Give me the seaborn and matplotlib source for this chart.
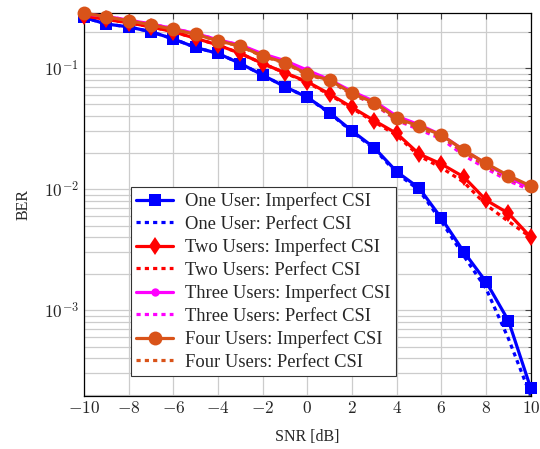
import numpy as np
import pandas as pd
import matplotlib
matplotlib.use("Agg")
import matplotlib.pyplot as plt
import matplotlib.ticker as mticker
import seaborn as sns

snr = list(range(-10, 11))

one_imp = [0.262, 0.231, 0.219, 0.1995, 0.174, 0.148, 0.132, 0.109, 0.0875, 0.070, 0.0573,
           0.0427, 0.0302, 0.0219, 0.0139, 0.0102, 0.00573, 0.00303, 0.00171, 0.000816, 0.000225]
one_per = [0.262, 0.231, 0.219, 0.1995, 0.174, 0.148, 0.132, 0.109, 0.0875, 0.070, 0.0570,
           0.0422, 0.0298, 0.0214, 0.0135, 0.0098, 0.0054, 0.0028, 0.00150, 0.00058, 0.000195]
two_imp = [0.270, 0.252, 0.237, 0.219, 0.1995, 0.176, 0.155, 0.132, 0.109, 0.0914, 0.077,
           0.061, 0.0473, 0.0367, 0.0288, 0.0195, 0.0161, 0.0126, 0.0081, 0.0063, 0.0040]
two_per = [0.270, 0.252, 0.237, 0.219, 0.1995, 0.176, 0.155, 0.132, 0.109, 0.0910, 0.076,
           0.060, 0.0465, 0.0358, 0.0278, 0.0188, 0.0150, 0.0114, 0.0074, 0.0054, 0.0040]
three_imp = [0.281, 0.267, 0.249, 0.231, 0.212, 0.193, 0.171, 0.155, 0.131, 0.115, 0.096,
             0.080, 0.064, 0.053, 0.040, 0.034, 0.028, 0.021, 0.0162, 0.0125, 0.0102]
three_per = [0.281, 0.267, 0.249, 0.231, 0.212, 0.193, 0.171, 0.154, 0.129, 0.113, 0.093,
             0.078, 0.061, 0.050, 0.037, 0.031, 0.026, 0.019, 0.0148, 0.0117, 0.0098]
four_imp = [0.285, 0.265, 0.246, 0.228, 0.209, 0.190, 0.168, 0.152, 0.126, 0.111, 0.089,
            0.0796, 0.0618, 0.0517, 0.0384, 0.0332, 0.0279, 0.0210, 0.0163, 0.0129, 0.0106]
four_per = [0.285, 0.265, 0.246, 0.228, 0.209, 0.190, 0.168, 0.151, 0.125, 0.110, 0.088,
            0.0785, 0.0605, 0.0505, 0.0372, 0.0322, 0.0270, 0.0202, 0.0155, 0.0122, 0.0102]

labels = ["One User: Imperfect CSI", "One User: Perfect CSI",
          "Two Users: Imperfect CSI", "Two Users: Perfect CSI",
          "Three Users: Imperfect CSI", "Three Users: Perfect CSI",
          "Four Users: Imperfect CSI", "Four Users: Perfect CSI"]
series = [one_imp, one_per, two_imp, two_per, three_imp, three_per, four_imp, four_per]
colors = ["#0000ff", "#0000ff", "#ff0000", "#ff0000", "#ff00ff", "#ff00ff", "#d95319", "#d95319"]
markers = ["s", None, "d", None, "o", None, "o", None]
msizes = [8, 0, 9.5, 0, 6, 0, 10, 0]

sns.set_style("white")
plt.rcParams["font.family"] = ["Liberation Serif", "DejaVu Serif"]
plt.rcParams["mathtext.fontset"] = "cm"

fig = plt.figure(figsize=(5.4, 4.49), dpi=100)
ax = fig.add_axes([0.1556, 0.118, 0.8274, 0.853])

for lab, vals, col, mk, ms in zip(labels, series, colors, markers, msizes):
    df = pd.DataFrame({"SNR": snr, "BER": vals})
    if mk is None:
        sns.lineplot(data=df, x="SNR", y="BER", ax=ax, color=col, lw=2.3,
                     label=lab, linestyle=(0, (1.3, 1.3)))
    else:
        sns.lineplot(data=df, x="SNR", y="BER", ax=ax, color=col, lw=2.3,
                     marker=mk, markersize=ms, markeredgewidth=0, label=lab,
                     clip_on=False, zorder=3)

ax.set_yscale("log")
ax.set_xlim(-10, 10)
ax.set_ylim(1.95e-4, 0.285)
ax.set_xticks(range(-10, 11, 2))
ax.xaxis.set_major_formatter(mticker.FuncFormatter(lambda v, p: r"$%d$" % v))
ax.yaxis.set_major_locator(mticker.LogLocator(base=10, numticks=10))
ax.yaxis.set_minor_locator(mticker.LogLocator(base=10, subs=np.arange(2, 10), numticks=20))
ax.yaxis.set_major_formatter(mticker.FuncFormatter(lambda v, p: r"$10^{%d}$" % round(np.log10(v))))
ax.yaxis.set_minor_formatter(mticker.NullFormatter())

ax.grid(True, which="major", axis="both", color="#cccccc", lw=0.9)
ax.grid(True, which="minor", axis="y", color="#cccccc", lw=0.9)
ax.set_axisbelow(True)
ax.tick_params(axis="both", which="both", direction="in", top=True, right=True,
               labelsize=12.5, color="#444444")
ax.tick_params(axis="both", which="major", length=4, width=0.8)
ax.tick_params(axis="y", which="minor", length=2.5, width=0.6)
for s in ax.spines.values():
    s.set_color("black")
    s.set_linewidth(0.9)
    s.set_zorder(2.5)

ax.set_xlabel("SNR [dB]", fontsize=11.5, labelpad=9)
ax.set_ylabel("BER", fontsize=11.5, labelpad=9)

leg = ax.legend(loc="upper left", bbox_to_anchor=(0.105, 0.546), fontsize=13.3,
                frameon=True, fancybox=False, edgecolor="#333333", framealpha=1,
                handlelength=2.0, borderpad=0.3, labelspacing=0.3, handletextpad=0.6,
                borderaxespad=0)
leg.get_frame().set_linewidth(0.8)
leg.set_zorder(5)

fig.savefig("out.png", dpi=100)
